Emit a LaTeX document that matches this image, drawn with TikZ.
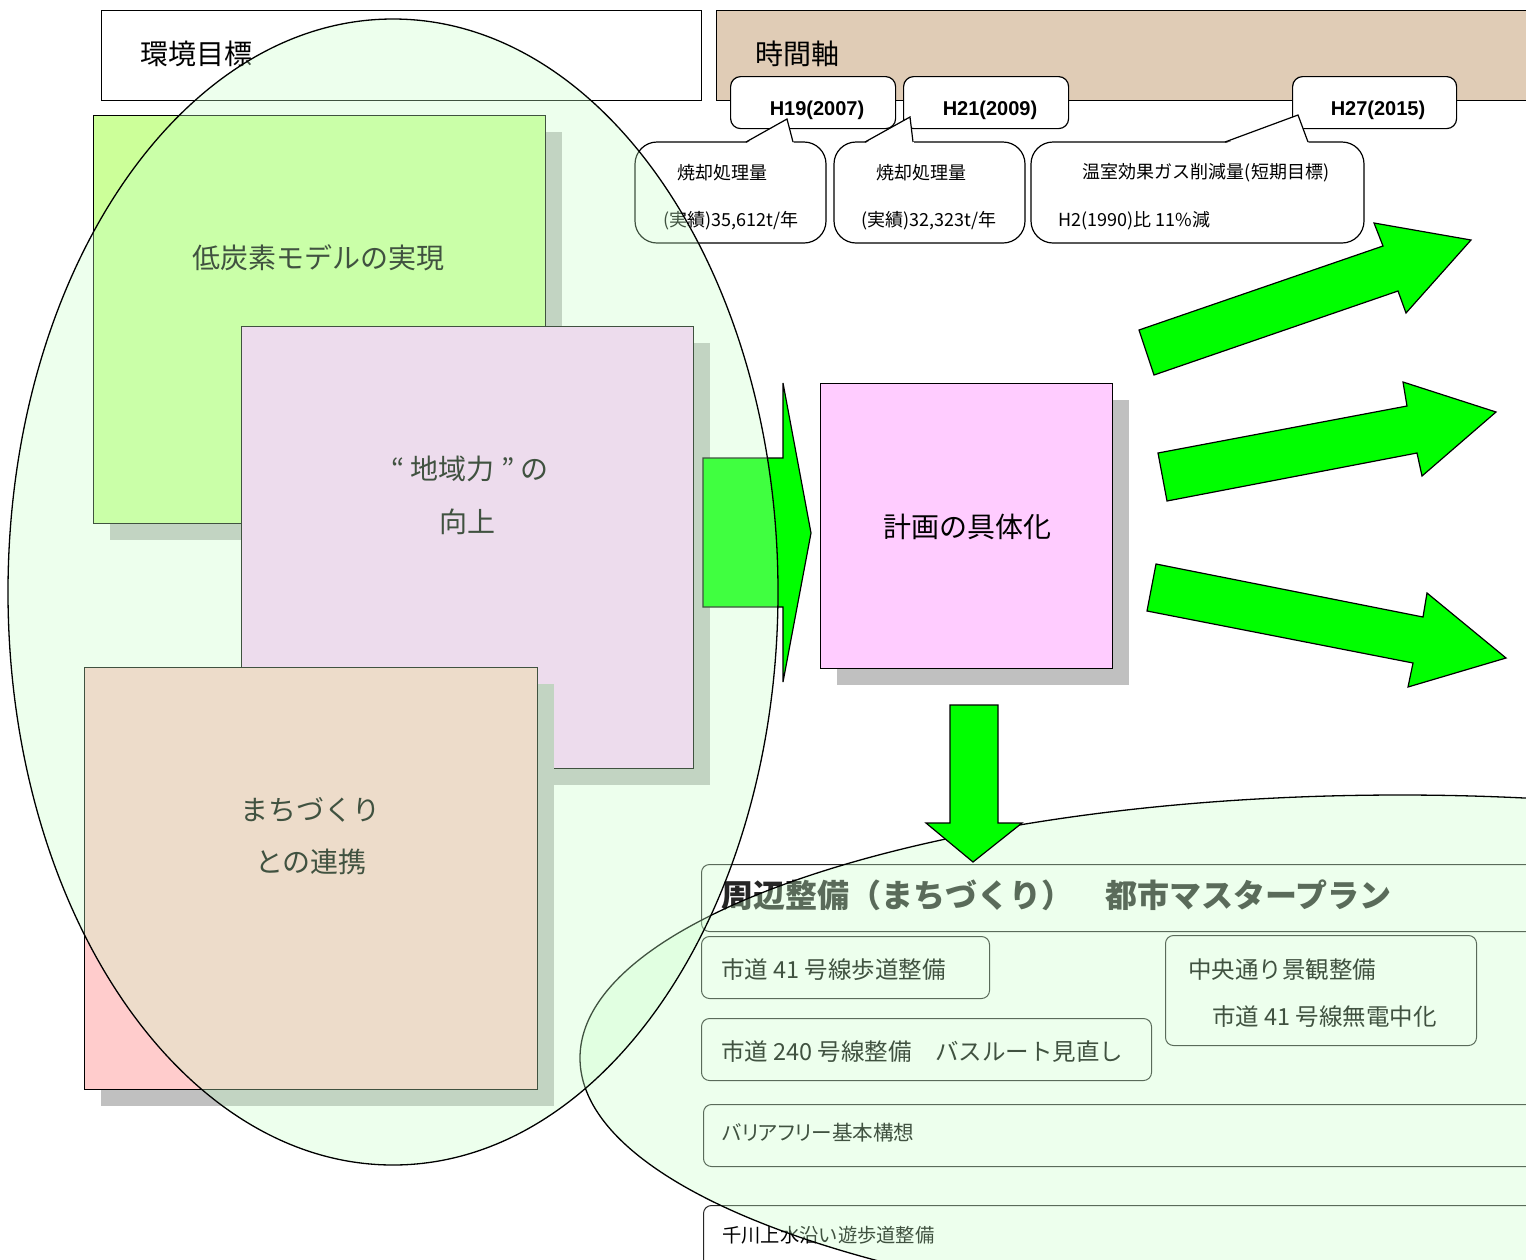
\documentclass[tikz,border=0pt]{standalone}
\usepackage{fontspec}
\setmainfont{Noto Sans CJK JP}
\newfontfamily\jpp{Noto Sans CJK JP}[RawFeature=+palt]
\newfontfamily\latin{Liberation Sans}
\usetikzlibrary{shadows}
\definecolor{lcgreen}{RGB}{204,255,153}
\definecolor{pinkbox}{RGB}{255,204,255}
\definecolor{redbox}{RGB}{255,204,204}
\definecolor{planbox}{RGB}{255,204,255}
\definecolor{arrowgreen}{RGB}{0,255,0}
\definecolor{shadowgray}{RGB}{192,192,192}
\definecolor{timetan}{RGB}{224,204,182}
\definecolor{veilgreen}{RGB}{200,255,200}
\begin{document}
\begin{tikzpicture}[x=1pt,y=-1pt,
  box/.style={draw=black, line width=1.2pt, inner sep=0pt, anchor=north west},
  shadowed/.style={drop shadow={shadow xshift=16pt, shadow yshift=-16pt, fill=shadowgray, opacity=1}},
  datebox/.style={box, fill=white, rounded corners=10pt},
  blockarrow/.style={draw=black, line width=1.2pt, fill=arrowgreen, line join=miter},
  veil/.style={draw=black, line width=1.3pt, fill=veilgreen, fill opacity=0.32},
  subbox/.style={draw=black!85, line width=1pt, fill=white, rounded corners=8pt, inner sep=0pt, anchor=north west},
  callout/.style={draw=black, line width=1.2pt, fill=white, rounded corners=22pt},
  ptr/.style={draw=black, line width=1.2pt},
  big/.style={inner sep=0pt, font=\fontsize{28}{32}\selectfont},
  small/.style={inner sep=0pt, font=\fontsize{18}{21}\selectfont},
  datetxt/.style={inner sep=0pt, font=\latin\bfseries\fontsize{20}{23}\selectfont},
  sub/.style={inner sep=0pt, anchor=west, font=\fontsize{23.5}{27}\selectfont},
  head/.style={inner sep=0pt, anchor=west, font=\bfseries\fontsize{32}{36}\selectfont, text=black!85}
]
\useasboundingbox (0,0) rectangle (1526,1259);
\clip (0,0) rectangle (1526,1259);

% top boxes
\node[box, fill=white, minimum width=600, minimum height=90] (env) at (101,10) {};
\node[box, fill=timetan, minimum width=840, minimum height=90] (time) at (716,10) {};
\node[datebox, minimum width=165, minimum height=52] (d1) at (730,76) {};
\node[datebox, minimum width=165, minimum height=52] (d2) at (903,76) {};
\node[datebox, minimum width=164, minimum height=52] (d3) at (1292,76) {};

% callouts
\draw[callout] (635,142) rectangle (826,243);
\fill[white] (745,144) -- (787,119) -- (794,144) -- cycle;
\draw[ptr] (746,142) -- (787,119) -- (793,142);
\draw[callout] (834,142) rectangle (1025,243);
\fill[white] (864,144) -- (910,117) -- (914,144) -- cycle;
\draw[ptr] (865,142) -- (910,117) -- (913,142);
\draw[callout] (1031,142) rectangle (1364,243);
\fill[white] (1224,144) -- (1298,115) -- (1309,144) -- cycle;
\draw[ptr] (1225,142) -- (1298,115) -- (1308,142);

% left boxes
\node[box, shadowed, fill=lcgreen, minimum width=452, minimum height=408] (lowc) at (93,115) {};
\node[box, shadowed, fill=pinkbox, minimum width=452, minimum height=442] (chiiki) at (241,326) {};
\node[box, shadowed, fill=redbox, minimum width=453, minimum height=422] (machi) at (84,667) {};

% block arrow into plan
\draw[blockarrow] (703,458) -- (783,458) -- (783,383) -- (811,533) -- (783,682) -- (783,607) -- (703,607) -- cycle;

% plan box
\node[box, shadowed, fill=planbox, minimum width=292, minimum height=285] (plan) at (820,383) {};

% three arrows to the right
\draw[blockarrow] (1154,375) -- (1139,330) -- (1383,246) -- (1374,223) -- (1471,240) -- (1406,313) -- (1398,291) -- cycle;
\draw[blockarrow] (1158,453) -- (1167,501) -- (1417,453) -- (1422,476) -- (1496,412) -- (1403,382) -- (1407,406) -- cycle;
\draw[blockarrow] (1156,564) -- (1147,611) -- (1413,663) -- (1408,687) -- (1506,658) -- (1427,593) -- (1423,617) -- cycle;

% bottom boxes
\node[subbox, minimum width=860, minimum height=67] (hd) at (701,864) {};
\node[subbox, minimum width=288, minimum height=62] (b1) at (701,936) {};
\node[subbox, minimum width=311, minimum height=110] (b2) at (1165,935) {};
\node[subbox, minimum width=450, minimum height=62] (b3) at (701,1018) {};
\node[subbox, minimum width=860, minimum height=62] (b4) at (703,1104) {};
\node[subbox, minimum width=860, minimum height=100] (b5) at (703,1205) {};

% texts
\node[big, anchor=west] (tenv) at (140,54) {環境目標};
\node[big, anchor=west] (ttime) at (755,54) {時間軸};
\node[datetxt] (td1) at (817,110) {H19(2007)};
\node[datetxt] (td2) at (990,110) {H21(2009)};
\node[datetxt] (td3) at (1378,110) {H27(2015)};
\node[small] (c1a) at (722,173) {焼却処理量};
\node[small] (c1b) at (731,221) {(実績)35,612t/年};
\node[small] (c2a) at (921,173) {焼却処理量};
\node[small] (c2b) at (929,221) {(実績)32,323t/年};
\node[small] (c3a) at (1206,173) {温室効果ガス削減量(短期目標)};
\node[small, anchor=west] (c3b) at (1058,221) {H2(1990)比 11\%減};
\node[big] (tlowc) at (318,258) {低炭素モデルの実現};
\node[big] (tchi1) at (470,469) {“ 地域力 ” の};
\node[big] (tchi2) at (467,522) {向上};
\node[big] (tmac1) at (310,810) {まちづくり};
\node[big] (tmac2) at (311,862) {との連携};
\node[big] (tplan) at (967,527) {計画の具体化};
\node[head] (thd) at (721,895) {周辺整備（まちづくり）　都市マスタープラン};
\node[sub] (tb1) at (721,970) {市道 41 号線歩道整備};
\node[sub] (tb2a) at (1188,970) {中央通り景観整備};
\node[sub] (tb2b) at (1212,1017) {市道 41 号線無電中化};
\node[sub] (tb3) at (721,1052) {市道 240 号線整備　バスルート見直し};
\node[sub, font=\jpp\fontsize{20.6}{24}\selectfont] (tb4) at (722,1133) {バリアフリー基本構想};
\node[sub, font=\fontsize{19.3}{23}\selectfont] (tb5) at (722,1235) {千川上水沿い遊歩道整備};

% bottom veil
\draw[veil] (1400,1058) ellipse [x radius=820, y radius=263];

% down arrow
\draw[blockarrow] (950,705) -- (998,705) -- (998,823) -- (1022,823) -- (973,862) -- (926,823) -- (950,823) -- cycle;

% left veil
\draw[veil] (393,592) ellipse [x radius=385, y radius=573];
\end{tikzpicture}
\end{document}
